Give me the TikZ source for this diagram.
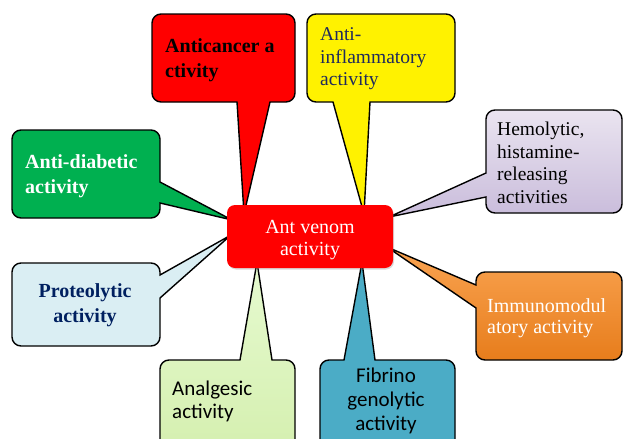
\documentclass[tikz,border=0pt]{standalone}
\usepackage{fontspec}
\setmainfont{Liberation Serif}
\newfontfamily\cambria{Liberation Serif}
\newfontfamily\calibri{Carlito}
\usepackage{xcolor}
\usepackage{tikz}
\usetikzlibrary{shadows}

\definecolor{diabgreen}{HTML}{00B050}
\definecolor{protblue}{HTML}{DAEEF3}
\definecolor{navytext}{HTML}{002060}
\definecolor{inflamtext}{HTML}{1F2A5C}
\definecolor{fibteal}{HTML}{4BACC6}
\definecolor{hemotop}{HTML}{EAE4F0}
\definecolor{hemobot}{HTML}{C9BCDB}
\definecolor{analgtop}{HTML}{E6FAD0}
\definecolor{analgbot}{HTML}{D4EFAE}
\definecolor{immutop}{HTML}{FAA452}
\definecolor{immubot}{HTML}{E77D1C}

\tikzset{
  bubble/.style={draw=black, line width=1.4pt, rounded corners=9pt},
  bubbletext/.style={inner sep=0pt, align=left, anchor=west},
  serifbold/.style={font=\cambria\fontsize{20}{25}\selectfont\bfseries},
  serifplain/.style={font=\cambria\fontsize{19.5}{22.5}\selectfont},
}

\begin{document}
\begin{tikzpicture}[x=1pt, y=-1pt]
        \useasboundingbox (0,0) rectangle (624,439);
        \clip (0,0) rectangle (624,439);
        % tips of the pointers, hidden under the centre box
        \coordinate (tipcancer) at (244,214);
        \coordinate (tipinflam) at (364,214);
        \coordinate (tiphemo) at (389,217);
        \coordinate (tipdiab) at (232,220);
        \coordinate (tipprot) at (231,235);
        \coordinate (tipanalg) at (257,262);
        \coordinate (tipfib) at (362,262);
        \coordinate (tipimmu) at (387,247);
        % callouts above
        \filldraw[bubble, fill=red] (152,14) -- (295,14) -- (295,102) [sharp corners] -- (270,102) -- (tipcancer) -- (237,102) [rounded corners=9pt] -- (152,102) -- cycle;
        \filldraw[bubble, fill=yellow] (307,14) -- (455,14) -- (455,102) [sharp corners] -- (370,102) -- (tipinflam) -- (333,102) [rounded corners=9pt] -- (307,102) -- cycle;
        % callouts at the sides
        \draw[bubble, top color=hemotop, bottom color=hemobot] (486,110) -- (622,110) -- (622,213) -- (486,213) [sharp corners] -- (486,197) -- (tiphemo) -- (486,173) [rounded corners=9pt] -- cycle;
        \filldraw[bubble, fill=diabgreen] (12,130) -- (160,130) [sharp corners] -- (160,182) -- (tipdiab) -- (160,203) [rounded corners=9pt] -- (160,218) -- (12,218) -- cycle;
        \filldraw[bubble, fill=protblue] (12,263) -- (160,263) [sharp corners] -- (160,275) -- (tipprot) -- (160,298) [rounded corners=9pt] -- (160,346) -- (12,346) -- cycle;
        \draw[bubble, top color=immutop, bottom color=immubot] (476,272) -- (622,272) -- (622,360) -- (476,360) [sharp corners] -- (476,308) -- (tipimmu) -- (476,285) [rounded corners=9pt] -- cycle;
        % callouts below
        \draw[bubble, top color=analgtop, bottom color=analgbot] (160,360) [sharp corners] -- (240,360) -- (tipanalg) -- (272,360) [rounded corners=9pt] -- (295,360) -- (295,460) -- (160,460) -- cycle;
        \filldraw[bubble, fill=fibteal] (320,360) [sharp corners] -- (344,360) -- (tipfib) -- (375,360) [rounded corners=9pt] -- (455,360) -- (455,460) -- (320,460) -- cycle;
        % texts
        \node[bubbletext, serifbold] (cancer) at (165,60) {Anticancer a\\ctivity};
        \node[bubbletext, serifplain, text=inflamtext] (inflam) at (320,59) {Anti-\\inflammatory\\activity};
        \node[bubbletext, serifplain] (hemo) at (497,163) {Hemolytic,\\histamine-\\releasing\\activities};
        \node[bubbletext, serifbold, text=white] (diab) at (25,176) {Anti-diabetic\\activity};
        \node[bubbletext, serifbold, text=navytext, align=center, anchor=center] (prot) at (85,305) {Proteolytic\\activity};
        \node[bubbletext, font=\calibri\fontsize{21}{23}\selectfont] (analg) at (172,401) {Analgesic\\activity};
        \node[bubbletext, font=\calibri\fontsize{21}{24}\selectfont, align=center, anchor=center] (fib) at (386,401) {Fibrino\\genolytic\\activity};
        \node[bubbletext, font=\cambria\fontsize{20}{21}\selectfont, text=white] (immu) at (487,318) {Immunomodul\\atory activity};
        % centre box
        \node[fill=red, rounded corners=8pt, minimum width=166pt, minimum height=63pt, align=center, text=white,
              font=\cambria\fontsize{20}{22}\selectfont, drop shadow={opacity=0.3, shadow xshift=1pt, shadow yshift=-1.5pt}] (venom) at (310,236.5) {\rule{0pt}{20pt}Ant venom\\activity};
    \end{tikzpicture}
\end{document}
